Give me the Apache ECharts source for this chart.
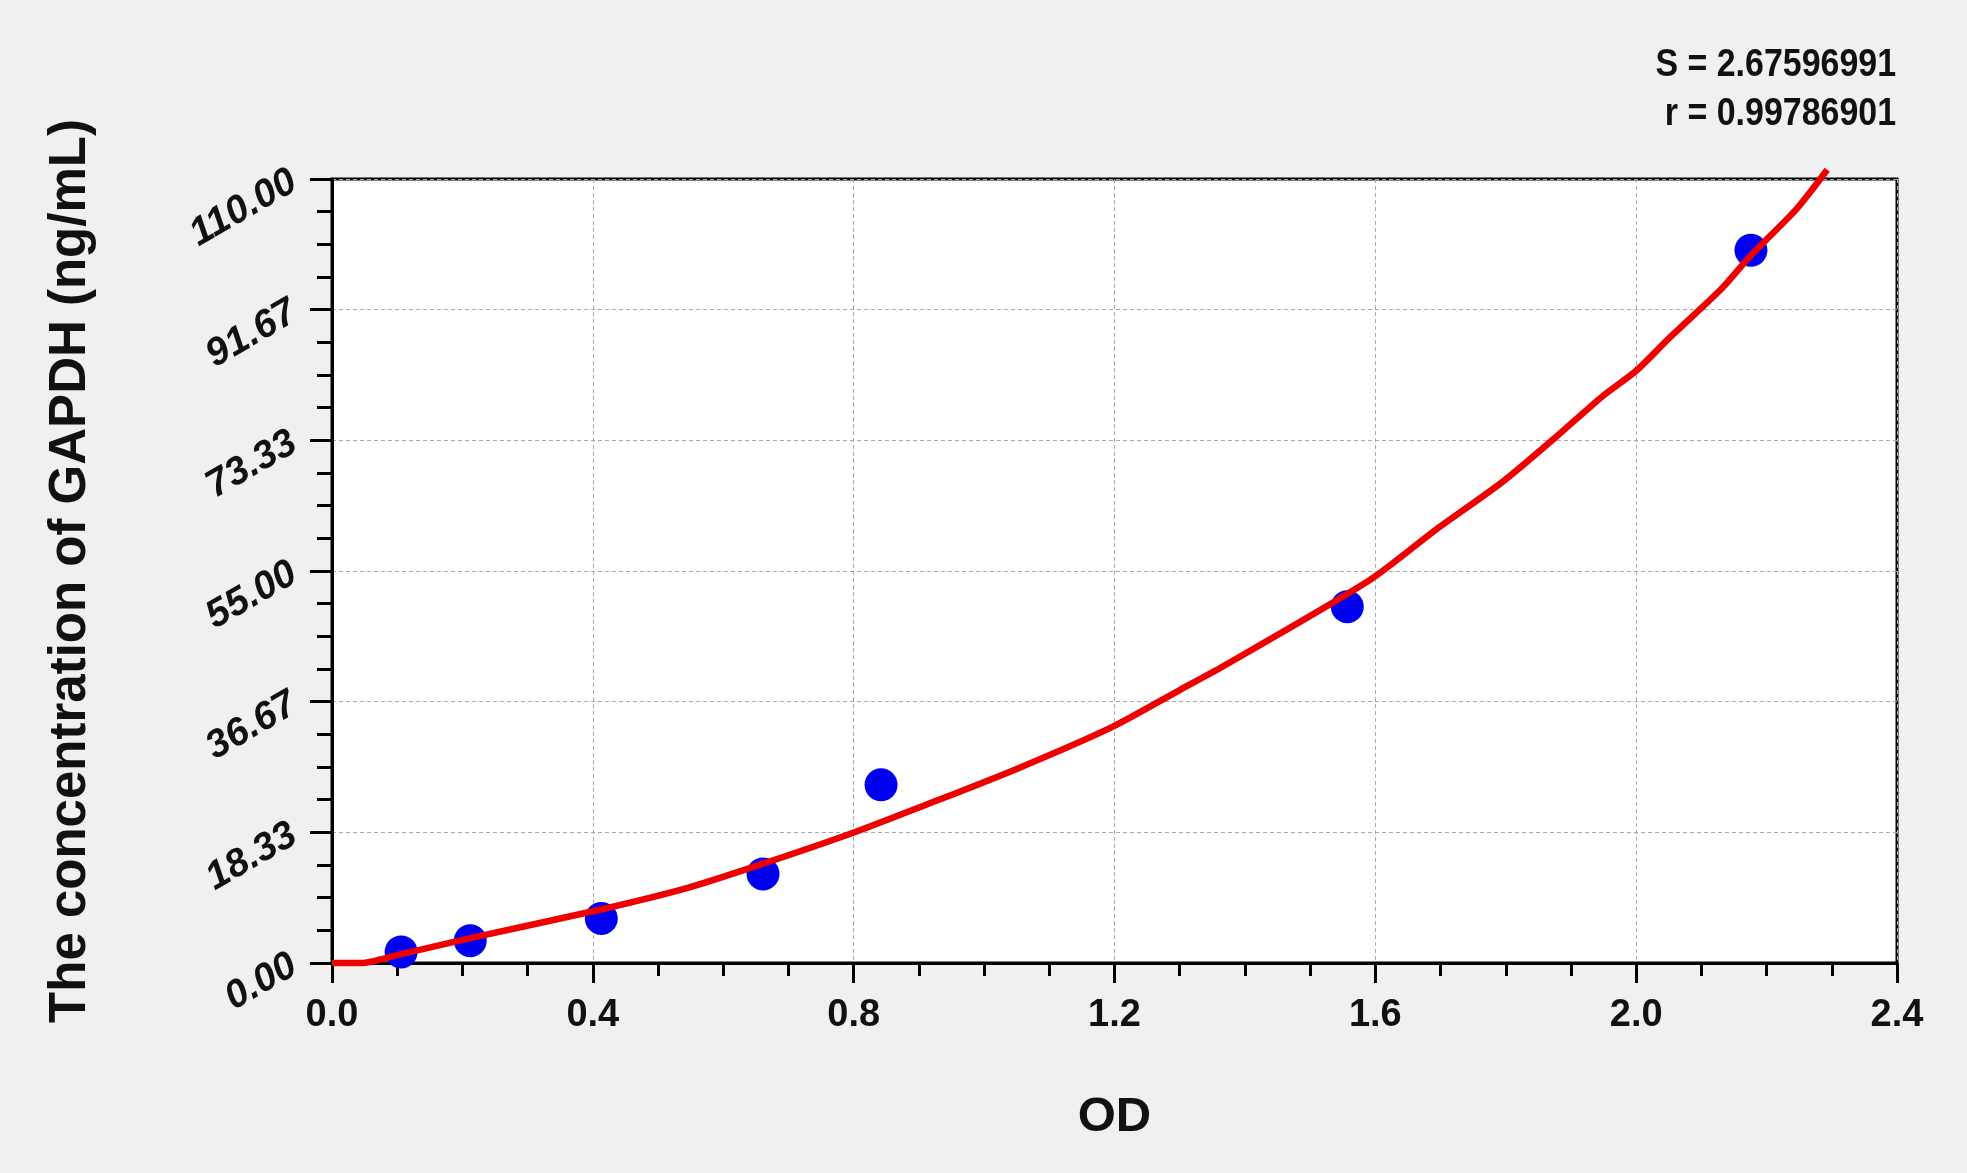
<!DOCTYPE html>
<html>
<head>
<meta charset="utf-8">
<script src="https://cdn.jsdelivr.net/npm/echarts@6/dist/echarts.min.js"></script>
<style>
html,body{margin:0;padding:0;background:#f0f0f0;}
#c{width:1967px;height:1173px;}
</style>
</head>
<body>
<div id="c"></div>
<script>
// Measured standard points: OD vs concentration
const odValues = [0.106, 0.212, 0.413, 0.661, 0.842, 1.557, 2.176];
const concValues = [1.56, 3.13, 6.25, 12.5, 25, 50, 100];

// Fitted curve
const curveOD = [0, 0.045, 0.0996, 0.212, 0.4075, 0.544, 0.66, 0.794, 0.911, 1.049, 1.196, 1.300, 1.366, 1.591, 1.693, 1.795, 1.877, 1.948, 2.0, 2.051, 2.132, 2.176, 2.245, 2.293];
const curveConc = [0, 0, 1.1, 3.5, 7.4, 10.5, 13.9, 18.1, 22.2, 27.2, 33.1, 38.3, 41.6, 53.7, 60.8, 67.5, 73.8, 79.5, 83.1, 87.7, 94.7, 99.3, 105.7, 111.3];

const xTicks = [0.0, 0.4, 0.8, 1.2, 1.6, 2.0, 2.4];
const yTicks = [0.00, 18.33, 36.67, 55.00, 73.33, 91.67, 110.00];

const statS = 'S = 2.67596991';
const statR = 'r = 0.99786901';
const xName = 'OD';
const yName = 'The concentration of GAPDH (ng/mL)';

const chart = echarts.init(document.getElementById('c'), null, {renderer: 'canvas'});

const yMax = yTicks[yTicks.length - 1];
const yInterval = yMax / (yTicks.length - 1);
const xMax = xTicks[xTicks.length - 1];
const xInterval = xTicks[1] - xTicks[0];

const statFont = 'bold 39px "Liberation Sans", Arial, sans-serif';

const option = {
  backgroundColor: '#f0f0f0',
  animation: false,
  grid: {
    left: 332, right: 70, top: 179, bottom: 210,
    show: true, backgroundColor: '#ffffff', borderColor: '#000', borderWidth: 3
  },
  graphic: [
    {type: 'text', x: 1896, y: 65, scaleX: 0.87, style: {text: statS, x: 0, y: 0, fill: '#111', font: statFont, textAlign: 'right', textVerticalAlign: 'middle'}},
    {type: 'text', x: 1896, y: 114, scaleX: 0.87, style: {text: statR, x: 0, y: 0, fill: '#111', font: statFont, textAlign: 'right', textVerticalAlign: 'middle'}}
  ],
  xAxis: {
    type: 'value', min: 0, max: xMax, interval: xInterval,
    name: xName, nameLocation: 'middle', nameGap: 130,
    nameTextStyle: {fontFamily: 'Liberation Sans, Arial', fontWeight: 'bold', fontSize: 49, color: '#111'},
    axisLine: {show: true, onZero: false, lineStyle: {color: '#000', width: 3}},
    axisTick: {show: true, inside: false, length: 20, lineStyle: {color: '#000', width: 3}},
    minorTick: {show: true, splitNumber: 4, length: 13, lineStyle: {color: '#000', width: 3}},
    axisLabel: {margin: 34, fontFamily: '"Liberation Sans", Arial', fontWeight: 'bold', fontSize: 38, color: '#111',
      formatter: v => v.toFixed(1)},
    splitLine: {show: true, lineStyle: {color: '#a8a8a8', width: 1, type: [4, 3]}}
  },
  yAxis: {
    type: 'value', min: 0, max: yMax, interval: yInterval,
    name: yName, nameLocation: 'middle', nameGap: 236,
    nameTextStyle: {fontFamily: 'Liberation Sans, Arial', fontWeight: 'bold', fontSize: 51, color: '#111'},
    axisLine: {show: true, onZero: false, lineStyle: {color: '#000', width: 3}},
    axisTick: {show: true, inside: false, length: 22, lineStyle: {color: '#000', width: 3}},
    minorTick: {show: true, splitNumber: 4, length: 15, lineStyle: {color: '#000', width: 3}},
    axisLabel: {margin: 38, rotate: 30, fontFamily: '"Liberation Sans", Arial', fontWeight: 'bold', fontStyle: 'italic', fontSize: 39, color: '#111',
      formatter: v => {
        const i = Math.round(v / yInterval);
        return yTicks[i] !== undefined ? yTicks[i].toFixed(2) : v.toFixed(2);
      }},
    splitLine: {show: true, lineStyle: {color: '#a8a8a8', width: 1, type: [4, 3]}}
  },
  series: [
    {
      type: 'scatter', z: 2,
      data: odValues.map((x, i) => [x, concValues[i]]),
      symbol: 'circle', symbolSize: 33,
      itemStyle: {color: '#0000f0', opacity: 1}
    },
    {
      type: 'line', z: 3, clip: false, smooth: 0.25,
      data: curveOD.map((x, i) => [x, curveConc[i]]),
      showSymbol: false, symbol: 'none',
      lineStyle: {color: '#ee0000', width: 6.5}
    }
  ]
};
chart.setOption(option);
</script>
</body>
</html>
